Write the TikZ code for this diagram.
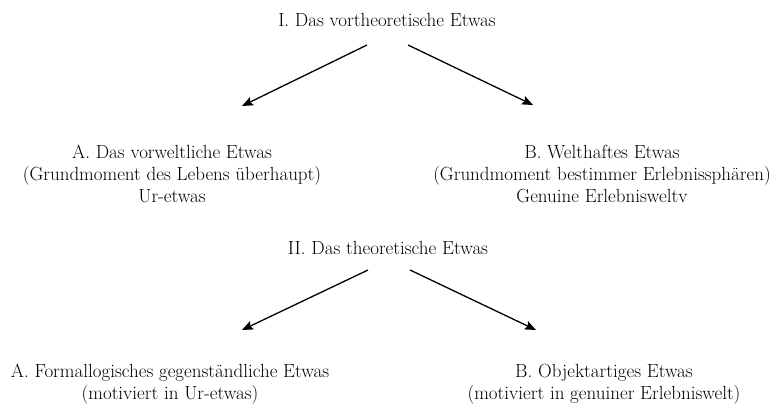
\documentclass[tikz,border=0pt]{standalone}
\usetikzlibrary{arrows.meta}
\begin{document}
\begin{tikzpicture}[x=1pt,y=-1pt,
  lbl/.style={align=center,inner sep=0pt,font=\fontsize{19}{22}\selectfont},
  arr/.style={line width=1.3pt,-{Stealth[length=11pt,width=9pt,inset=2pt]}}]
\useasboundingbox (0,0) rectangle (776,407);
\node[lbl] (t1) at (387,20) {I. Das vortheoretische Etwas};
\node[lbl] (a1) at (172,174) {A. Das vorweltliche Etwas\\(Grundmoment des Lebens überhaupt)\\Ur-etwas};
\node[lbl] (b1) at (602,174) {B. Welthaftes Etwas\\(Grundmoment bestimmer Erlebnissphären)\\Genuine Erlebnisweltv};
\node[lbl] (t2) at (388,248) {II. Das theoretische Etwas};
\node[lbl] (a2) at (170,384) {A. Formallogisches gegenständliche Etwas\\(motiviert in Ur-etwas)};
\node[lbl] (b2) at (604,384) {B. Objektartiges Etwas\\(motiviert in genuiner Erlebniswelt)};
\coordinate (s1l) at (367,45);
\coordinate (e1l) at (242,106);
\coordinate (s1r) at (408,45);
\coordinate (e1r) at (533,105);
\coordinate (s2l) at (368,270);
\coordinate (e2l) at (242,330);
\coordinate (s2r) at (410,270);
\coordinate (e2r) at (536,330);
\draw[arr] (s1l) -- (e1l);
\draw[arr] (s1r) -- (e1r);
\draw[arr] (s2l) -- (e2l);
\draw[arr] (s2r) -- (e2r);
\end{tikzpicture}
\end{document}
